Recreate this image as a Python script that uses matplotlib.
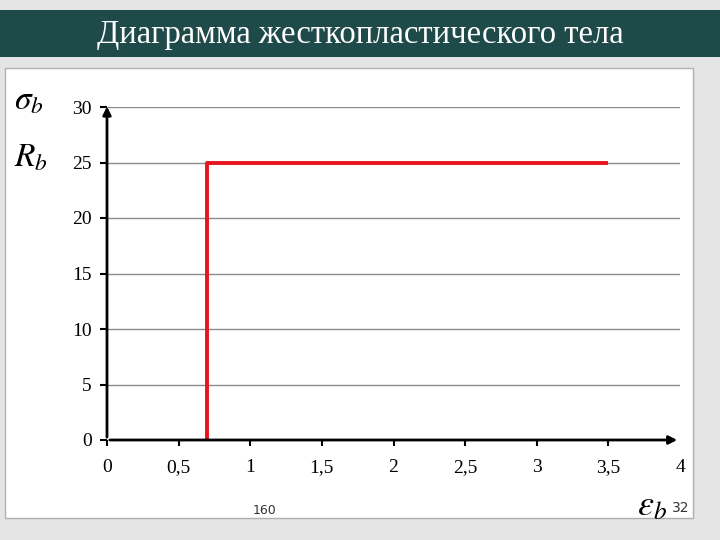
import matplotlib
matplotlib.use('Agg')
import matplotlib.pyplot as plt
from matplotlib.patches import Rectangle

# curve of the rigid-plastic body
strain = [0.7, 0.7, 3.5]
stress = [0, 25, 25]

x_ticks = [0, 0.5, 1, 1.5, 2, 2.5, 3, 3.5]
x_labels = ['0', '0,5', '1', '1,5', '2', '2,5', '3', '3,5']
y_ticks = [0, 5, 10, 15, 20, 25, 30]

plt.rcParams['mathtext.fontset'] = 'stix'
serif = 'Liberation Serif'

fig = plt.figure(figsize=(7.2, 5.4), dpi=100)
fig.patch.set_facecolor('#e4e4e4')

# title band and white panel
fig.add_artist(Rectangle((0, 1 - 57 / 540), 1, 47 / 540, transform=fig.transFigure,
                         facecolor='#1f4a4a', edgecolor='none', zorder=0))
fig.add_artist(Rectangle((5 / 720, 1 - 518 / 540), 688 / 720, 450 / 540,
                         transform=fig.transFigure, facecolor='white',
                         edgecolor='#b0b0b0', lw=1, zorder=0))
fig.text(0.5, 1 - 35 / 540, 'Диаграмма жесткопластического тела', ha='center',
         va='center', color='white', fontsize=23.5, family=serif)

ax = fig.add_axes([107 / 720, 100 / 540, 573 / 720, 333 / 540])
ax.set_facecolor('none')
ax.set_xlim(0, 4)
ax.set_ylim(0, 30)
for s in ax.spines.values():
    s.set_visible(False)

for y in y_ticks[1:]:
    ax.axhline(y, color='#8c8c8c', lw=1, zorder=1)

ax.plot(strain, stress, color='#e8141c', lw=2.8, zorder=3, solid_capstyle='butt')

ax.annotate('', xy=(4.0, 0), xytext=(0, 0),
            arrowprops=dict(arrowstyle='-|>', color='black', lw=2, mutation_scale=12),
            zorder=4, annotation_clip=False)
ax.annotate('', xy=(0, 30.3), xytext=(0, 0),
            arrowprops=dict(arrowstyle='-|>', color='black', lw=2, mutation_scale=12),
            zorder=4, annotation_clip=False)

ax.set_xticks(x_ticks)
ax.set_xticklabels(x_labels, family=serif, fontsize=14)
ax.set_yticks(y_ticks)
ax.set_yticklabels([str(v) for v in y_ticks], family=serif, fontsize=14)
ax.tick_params(axis='x', direction='out', length=4, width=1.5, pad=10)
ax.tick_params(axis='y', direction='out', length=5, width=1.5, pad=6)
# last x label sits under the arrow head
ax.text(4, -0.058, '4', transform=ax.get_xaxis_transform(), ha='center', va='top',
        family=serif, fontsize=14)

fig.text(14 / 720, 1 - 100 / 540, r'$\sigma_b$', fontsize=24, va='center')
fig.text(14 / 720, 1 - 157 / 540, r'$R_b$', fontsize=24, va='center')
fig.text(637 / 720, 1 - 505 / 540, r'$\varepsilon_b$', fontsize=26, va='center')
fig.text(672 / 720, 1 - 508 / 540, '32', fontsize=10, va='center', color='#333333')
fig.text(265 / 720, 1 - 510 / 540, '160', fontsize=9, ha='center', va='center',
         color='#333333')

fig.savefig('out.png', dpi=100, facecolor=fig.get_facecolor())
